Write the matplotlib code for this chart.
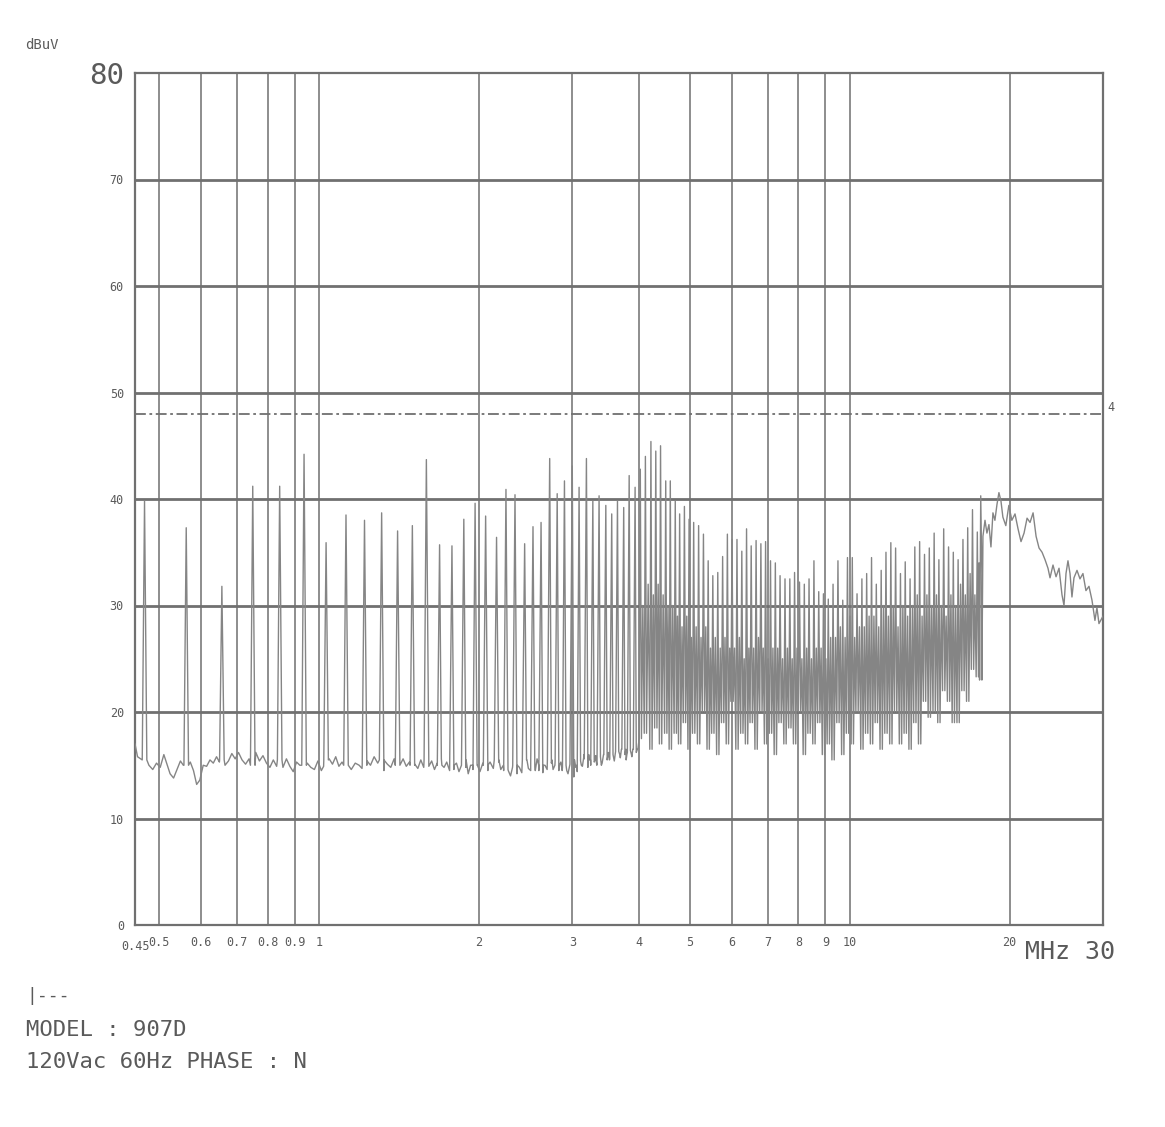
import numpy as np
import matplotlib.pyplot as plt

# --- Datos (MHz, dBuV) ---
# picos aislados (armónicos 0.47 - 3.9 MHz)
spike_mhz = [0.469, 0.562, 0.656, 0.750, 0.843, 0.937, 1.031, 1.124, 1.218, 1.312,
             1.406, 1.499, 1.593, 1.687, 1.780, 1.874, 1.968,
             2.06, 2.16, 2.25, 2.34, 2.44, 2.53, 2.62, 2.72, 2.81, 2.90, 3.00,
             3.09, 3.19, 3.28, 3.37, 3.47, 3.56, 3.65, 3.75, 3.84, 3.94]
spike_db = [39.8, 37.3, 31.8, 41.2, 41.2, 44.2, 35.9, 38.5, 38.0, 38.7,
            37.0, 37.5, 43.7, 35.7, 35.6, 38.1, 39.6,
            38.4, 36.4, 40.9, 40.4, 35.8, 37.4, 37.8, 43.8, 40.5, 41.7, 43.1,
            41.1, 43.8, 39.8, 40.3, 39.4, 38.6, 39.8, 39.2, 42.2, 41.1]
spike_lo = [15.5, 15.0, 15.5, 15.0, 15.5, 15.0, 15.5, 15.0, 15.0, 15.5,
            15.0, 15.0, 15.5, 15.0, 15.0, 15.5, 15.0,
            15.0, 15.5, 14.5, 15.0, 15.5, 14.5, 15.0, 15.5, 15.0, 14.5, 15.5,
            15.0, 16.0, 15.5, 15.0, 16.0, 15.5, 16.0, 16.5, 16.0, 16.5]

# ruido de fondo entre picos
floor_mhz = [0.450, 0.455, 0.478, 0.486, 0.494, 0.502, 0.510, 0.517, 0.524, 0.532,
             0.540, 0.548, 0.555,
             0.572, 0.580, 0.588, 0.596, 0.605, 0.614, 0.623, 0.632, 0.641, 0.649,
             0.665, 0.675, 0.685, 0.695, 0.705, 0.716, 0.727, 0.738,
             0.760, 0.772, 0.784, 0.796, 0.808, 0.820, 0.832,
             0.855, 0.868, 0.881, 0.894, 0.907, 0.920,
             0.950, 0.965, 0.980, 0.995, 1.010, 1.020,
             1.045, 1.060, 1.075, 1.090, 1.105,
             1.135, 1.150, 1.170, 1.190, 1.205,
             1.232, 1.250, 1.270, 1.290,
             1.325, 1.345, 1.365, 1.385,
             1.420, 1.440, 1.460, 1.480,
             1.515, 1.535, 1.555, 1.575,
             1.610, 1.630, 1.650, 1.670,
             1.700, 1.720, 1.740, 1.762,
             1.795, 1.815, 1.835, 1.855,
             1.890, 1.910, 1.930, 1.950,
             1.985, 2.010, 2.035,
             2.08, 2.10, 2.13,
             2.18, 2.20, 2.225,
             2.27, 2.295, 2.315,
             2.36, 2.385, 2.41,
             2.46, 2.48, 2.505,
             2.55, 2.575, 2.595,
             2.64, 2.665, 2.69,
             2.74, 2.76, 2.785,
             2.83, 2.855, 2.875,
             2.92, 2.945, 2.97,
             3.02, 3.045, 3.065,
             3.11, 3.135, 3.16,
             3.21, 3.23, 3.25,
             3.30, 3.32, 3.34,
             3.39, 3.415, 3.44,
             3.49, 3.51, 3.53,
             3.58, 3.60, 3.62,
             3.67, 3.695, 3.72,
             3.77, 3.79, 3.81,
             3.86, 3.885, 3.91,
             3.96, 3.99]
floor_db = [17.0, 15.8, 15.0, 14.6, 15.2, 14.8, 16.0, 15.1, 14.2, 13.8,
            14.6, 15.4, 15.0,
            15.3, 14.5, 13.2, 13.6, 15.0, 14.9, 15.5, 15.2, 15.8, 15.3,
            15.0, 15.4, 16.1, 15.6, 16.2, 15.5, 15.1, 15.6,
            16.2, 15.4, 15.9, 15.2, 14.8, 15.5, 14.9,
            14.8, 15.6, 14.9, 14.4, 15.3, 15.0,
            15.2, 14.8, 14.6, 15.4, 14.5, 14.9,
            15.6, 15.1, 15.8, 14.9, 15.3,
            15.0, 14.6, 15.2, 15.0, 14.7,
            15.4, 15.0, 15.8, 15.2,
            14.5, 15.1, 14.8, 15.6,
            15.0, 15.6, 14.9, 15.3,
            15.1, 14.7, 15.5, 14.8,
            14.9, 15.4, 14.6, 15.2,
            15.6, 14.8, 15.3, 14.5,
            14.6, 15.2, 14.4, 15.0,
            14.8, 14.2, 15.0, 14.6,
            15.0, 14.4, 15.2,
            14.5, 15.3, 14.7,
            15.3, 14.6, 15.0,
            14.6, 14.0, 14.8,
            14.2, 14.8, 14.3,
            15.5, 14.7, 15.2,
            14.8, 15.6, 14.5,
            14.3, 15.0, 14.6,
            15.2, 14.6, 15.4,
            14.5, 15.3, 14.8,
            15.0, 14.2, 15.1,
            13.9, 14.8, 14.4,
            15.4, 14.9, 15.6,
            14.8, 15.5, 15.0,
            15.3, 15.9, 15.1,
            15.8, 15.2, 16.0,
            15.5, 16.2, 15.6,
            16.0, 15.4, 16.3,
            16.3, 15.7, 16.5,
            16.0, 15.5, 16.2,
            16.4, 15.8, 16.5,
            16.2, 16.6]

# zona densa 4 - 17.7 MHz: pico, valle y nivel intermedio
dense_mhz = [4.03, 4.12, 4.22, 4.31, 4.40, 4.50, 4.59, 4.69,
             4.78, 4.88, 4.98, 5.08, 5.19, 5.30, 5.41, 5.52, 5.64, 5.76, 5.88, 6.00,
             6.13, 6.26, 6.39, 6.52, 6.66, 6.80, 6.94, 7.09, 7.24, 7.39, 7.55, 7.71,
             7.87, 8.04, 8.21, 8.38, 8.56, 8.74, 8.92, 9.11, 9.30, 9.50, 9.70, 9.90,
             10.11, 10.32, 10.54, 10.76, 10.99, 11.22, 11.46, 11.70, 11.95, 12.20,
             12.46, 12.72, 12.99, 13.26, 13.54, 13.83, 14.12, 14.42, 14.72, 15.03,
             15.35, 15.67, 16.00, 16.34, 16.68, 17.03, 17.39, 17.65]
dense_pk = [42.8, 44.0, 45.4, 44.5, 45.0, 41.7, 41.7, 39.8,
            38.6, 39.3, 38.1, 37.8, 37.5, 36.7, 34.2, 32.8, 33.1, 34.6, 36.7, 36.2,
            36.2, 35.1, 37.2, 35.6, 36.1, 35.8, 36.0, 34.2, 34.0, 32.8, 32.5, 32.5,
            33.1, 32.2, 32.0, 32.5, 34.2, 31.3, 31.1, 30.6, 32.0, 34.2, 30.5, 34.5,
            34.5, 31.1, 32.5, 33.0, 34.5, 32.0, 33.3, 35.0, 35.9, 35.4,
            33.0, 34.1, 32.5, 35.5, 36.0, 34.8, 35.4, 36.8, 34.3, 37.2,
            35.5, 35.0, 34.3, 36.2, 37.3, 39.0, 36.9, 40.3]
dense_lo = [17.5, 18, 16.5, 18.5, 17, 18, 16.5, 18,
            17, 19, 16.5, 18, 17, 20, 16.5, 18,
            16, 19, 17, 21, 16.5, 18, 17, 19,
            16.5, 20, 17, 18, 16, 19, 17, 18.5,
            17, 20, 16, 18, 17, 19, 16, 17,
            15.5, 19, 16, 18, 17, 20, 16.5, 18,
            17, 19, 16.5, 18, 17, 20, 17, 18,
            16.5, 19, 17, 21, 19.5, 20, 19, 22,
            21, 19, 19, 22, 21, 24, 23.3, 23]
dense_md = [30, 32, 31, 32, 31, 30, 30, 29,
            28, 29, 27, 28, 27, 28, 26, 27,
            26, 27, 26, 26, 27, 25, 26, 26,
            27, 26, 25, 26, 26, 25, 26, 25,
            26, 25, 26, 25, 26, 26, 25, 27,
            27, 28, 27, 29, 27, 28, 28, 29,
            29, 28, 30, 29, 30, 28, 30, 29,
            30, 31, 29, 31, 30, 31, 30, 29,
            31, 30, 32, 31, 33, 31, 34, 33]

# traza continua 17.8 - 30 MHz
tail_mhz = [17.82, 17.98, 18.13, 18.29, 18.45, 18.61, 18.77, 18.94, 19.10, 19.27,
            19.43, 19.68, 19.94, 20.20, 20.48, 20.75, 21.02, 21.30, 21.58, 21.86,
            22.15, 22.44, 22.73, 23.03, 23.33, 23.63, 23.84, 24.15, 24.47, 24.79,
            25.11, 25.33, 25.55, 25.77, 26.00, 26.22, 26.45, 26.80, 27.15, 27.50,
            27.86, 28.23, 28.60, 28.97, 29.22, 29.48, 30.0]
tail_db = [36.5, 38.0, 36.8, 37.6, 35.5, 38.7, 38.0, 39.5, 40.6, 39.8,
           38.3, 37.5, 39.4, 38.0, 38.6, 37.2, 36.0, 36.8, 38.2, 37.8,
           38.7, 36.5, 35.4, 35.0, 34.3, 33.5, 32.6, 33.8, 32.7, 33.5,
           31.0, 30.0, 33.0, 34.2, 33.0, 30.8, 32.6, 33.3, 32.5, 33.0,
           31.4, 31.8, 30.5, 28.6, 29.8, 28.3, 29.0]

limit_mhz = [0.45, 30]
limit_db = [48, 48]

x_ticks = [0.5, 0.6, 0.7, 0.8, 0.9, 1, 2, 3, 4, 5, 6, 7, 8, 9, 10, 20]
x_labels = ['0.5', '0.6', '0.7', '0.8', '0.9', '1', '2', '3', '4', '5',
            '6', '7', '8', '9', '10', '20']
y_ticks = [0, 10, 20, 30, 40, 50, 60, 70, 80]

# --- construir la traza ---
k = 1.010    # medio ancho de los picos aislados
k2 = 1.005   # medio ancho en la zona densa
pts = []
for f, p, lo in zip(spike_mhz, spike_db, spike_lo):
    pts += [(f / k, lo), (f, p), (f * k, lo)]
pts += list(zip(floor_mhz, floor_db))
nxt = dense_mhz[1:] + tail_mhz[:1]
for f, p, lo, md, fn in zip(dense_mhz, dense_pk, dense_lo, dense_md, nxt):
    pts += [(f / k2, lo), (f, p), (f * k2, lo), (np.sqrt(f * fn), md)]
pts += list(zip(tail_mhz, tail_db))
pts.sort()
xs, ys = zip(*pts)

# --- figura ---
W, H = 1165, 1127
fig = plt.figure(figsize=(W / 100, H / 100), dpi=100)
fig.patch.set_facecolor('white')
ax = fig.add_axes([135 / W, 1 - 925 / H, 968 / W, 852 / H])
ax.set_xscale('log')
ax.set_xlim(0.45, 30)
ax.set_ylim(0, 80)

grid_c = '#707070'
txt_c = '#5a5a5a'
mono = 'DejaVu Sans Mono'

for f in x_ticks:
    ax.axvline(f, color='#7a7a7a', lw=1.2, zorder=1)
for v in y_ticks[1:-1]:
    ax.axhline(v, color=grid_c, lw=2.0, zorder=1)

ax.plot(xs, ys, color='#858585', lw=1.0, zorder=3)
ax.plot(limit_mhz, limit_db, color='#707070', lw=1.3,
        linestyle=(0, (6, 2, 1.5, 2)), zorder=2)

for s in ax.spines.values():
    s.set_color(grid_c)
    s.set_linewidth(1.6)

ax.minorticks_off()
ax.set_xticks(x_ticks, x_labels)
ax.set_yticks(y_ticks, [str(v) for v in y_ticks])
ax.tick_params(length=0, labelcolor=txt_c, labelsize=8.5)
ax.tick_params(axis='x', pad=8)
ax.tick_params(axis='y', pad=8)
for lab in ax.get_xticklabels() + ax.get_yticklabels():
    lab.set_family(mono)
ax.get_yticklabels()[-1].set_fontsize(21)

def px(x, y):
    return x / W, 1 - y / H

fig.text(*px(135, 947), '0.45', family=mono, fontsize=8.5, color=txt_c,
         ha='center', va='center')
fig.text(*px(1115, 952), 'MHz 30', family=mono, fontsize=18, color=txt_c,
         ha='right', va='center')
fig.text(*px(25, 45), 'dBuV', family=mono, fontsize=10, color=txt_c,
         ha='left', va='center')
fig.text(*px(1107, 407), '4', family=mono, fontsize=8.5, color=txt_c,
         ha='left', va='center')

fig.text(*px(26, 996), '|---', family=mono, fontsize=13, color=txt_c,
         ha='left', va='center')
fig.text(*px(26, 1030), 'MODEL : 907D', family=mono, fontsize=16, color=txt_c,
         ha='left', va='center')
fig.text(*px(26, 1062), '120Vac 60Hz PHASE : N', family=mono, fontsize=16,
         color=txt_c, ha='left', va='center')

fig.savefig('out.png', dpi=100, facecolor=fig.get_facecolor())
